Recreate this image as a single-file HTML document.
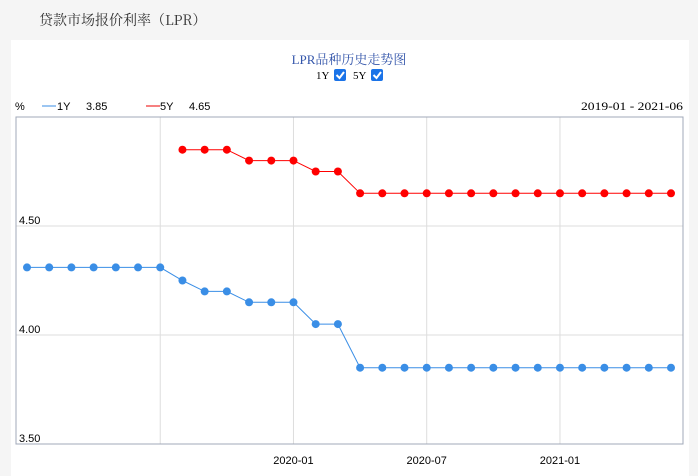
<!DOCTYPE html>
<html><head><meta charset="utf-8"><style>
body{margin:0;width:698px;height:476px;background:#f5f5f5;overflow:hidden;font-family:"Liberation Sans","Noto Sans CJK SC",sans-serif}
</style></head><body>
<div style="position:absolute;left:39px;top:10px;font-size:14px;color:#333;font-family:'Noto Serif CJK SC','Liberation Serif',serif">贷款市场报价利率（LPR）</div>
<div style="position:absolute;left:11px;top:40px;width:678px;height:436px;background:#fff"></div>
<svg id="c" width="698" height="476" style="position:absolute;left:0;top:0"></svg>
<script>
const months=["2019-01","2019-02","2019-03","2019-04","2019-05","2019-06","2019-07","2019-08","2019-09","2019-10","2019-11","2019-12","2020-01","2020-02","2020-03","2020-04","2020-05","2020-06","2020-07","2020-08","2020-09","2020-10","2020-11","2020-12","2021-01","2021-02","2021-03","2021-04","2021-05","2021-06"];
const lpr1y=[4.31,4.31,4.31,4.31,4.31,4.31,4.31,4.25,4.20,4.20,4.15,4.15,4.15,4.05,4.05,3.85,3.85,3.85,3.85,3.85,3.85,3.85,3.85,3.85,3.85,3.85,3.85,3.85,3.85,3.85];
const lpr5y=[null,null,null,null,null,null,null,4.85,4.85,4.85,4.80,4.80,4.80,4.75,4.75,4.65,4.65,4.65,4.65,4.65,4.65,4.65,4.65,4.65,4.65,4.65,4.65,4.65,4.65,4.65];
const yTicks=[3.5,4.0,4.5];
const xTickLabels=["2019-07","2020-01","2020-07","2021-01"];
const svg=document.getElementById('c');const NS='http://www.w3.org/2000/svg';
function mk(t,a,p){const e=document.createElementNS(NS,t);for(const k in a)e.setAttribute(k,a[k]);(p||svg).appendChild(e);return e;}
const L=16,R=683,T=117,B=444;
const x=i=>27+i*(671-27)/(months.length-1);
const y=v=>B-(v-3.5)/(5.0-3.5)*(B-T);
function txt(s,a,name){const e=mk('text',a);e.textContent=s;return e;}
txt("LPR品种历史走势图",{x:349,y:64,'text-anchor':'middle','font-size':13,fill:'#3355aa','font-family':"Liberation Serif,'Noto Serif CJK SC',serif"},'chart-title');
txt("1Y",{x:316,y:79,'font-size':11,fill:'#000','font-family':'Liberation Serif,serif'},'toggle-1y-label');
txt("5Y",{x:353,y:79,'font-size':11,fill:'#000','font-family':'Liberation Serif,serif'},'toggle-5y-label');
[[334,'toggle-1y-checkbox'],[371,'toggle-5y-checkbox']].forEach(([cx,n])=>{const g=mk('g',{});mk('rect',{x:cx,y:69,width:12,height:12,rx:2,fill:'#1a73e8'},g);mk('path',{d:`M${cx+2.5} ${75}l3 3l4.5-6`,stroke:'#fff','stroke-width':2,fill:'none'},g);});
txt("%",{x:15,y:110,'font-size':11,fill:'#000'},'y-unit');
mk('line',{x1:42,y1:106,x2:56,y2:106,stroke:'#3a8ee6'});
txt("1Y",{x:57,y:110,'font-size':11,fill:'#000'},'legend-1y');
txt("3.85",{x:86,y:110,'font-size':11,fill:'#000'},'legend-1y-value');
mk('line',{x1:146,y1:106,x2:160,y2:106,stroke:'#e00'});
txt("5Y",{x:160,y:110,'font-size':11,fill:'#000'},'legend-5y');
txt("4.65",{x:189,y:110,'font-size':11,fill:'#000'},'legend-5y-value');
txt("2019-01 - 2021-06",{x:581,y:110,'font-size':12,fill:'#000','font-family':'Liberation Serif,serif',textLength:102,lengthAdjust:'spacingAndGlyphs'},'date-range');
yTicks.forEach(v=>{if(v>3.5){const g=mk('line',{x1:L,x2:R,y1:y(v),y2:y(v),stroke:'#ddd'});}
txt(v.toFixed(2),{x:19,y:y(v)-2,'font-size':11,fill:'#000'},'y-tick-label');});
xTickLabels.forEach((m,k)=>{const i=months.indexOf(m);const g=mk('line',{x1:x(i),x2:x(i),y1:T,y2:B,stroke:'#ddd'});
if(k>0)txt(m,{x:x(i),y:464,'text-anchor':'middle','font-size':11,fill:'#000'},'x-tick-label');});
const fr=mk('rect',{x:L,y:T,width:R-L,height:B-T,fill:'none',stroke:'#a0a8b8'});
function series(vals,col,name){let d='';vals.forEach((v,i)=>{if(v==null)return;d+=(d?'L':'M')+x(i)+' '+y(v);});
const p=mk('path',{d,stroke:col,fill:'none','stroke-width':1});
vals.forEach((v,i)=>{if(v==null)return;const c=mk('circle',{cx:x(i),cy:y(v),r:4,fill:col});});}
series(lpr1y,'#3a8ee6','lpr-1y');
series(lpr5y,'#f00','lpr-5y');
</script>
</body></html>
